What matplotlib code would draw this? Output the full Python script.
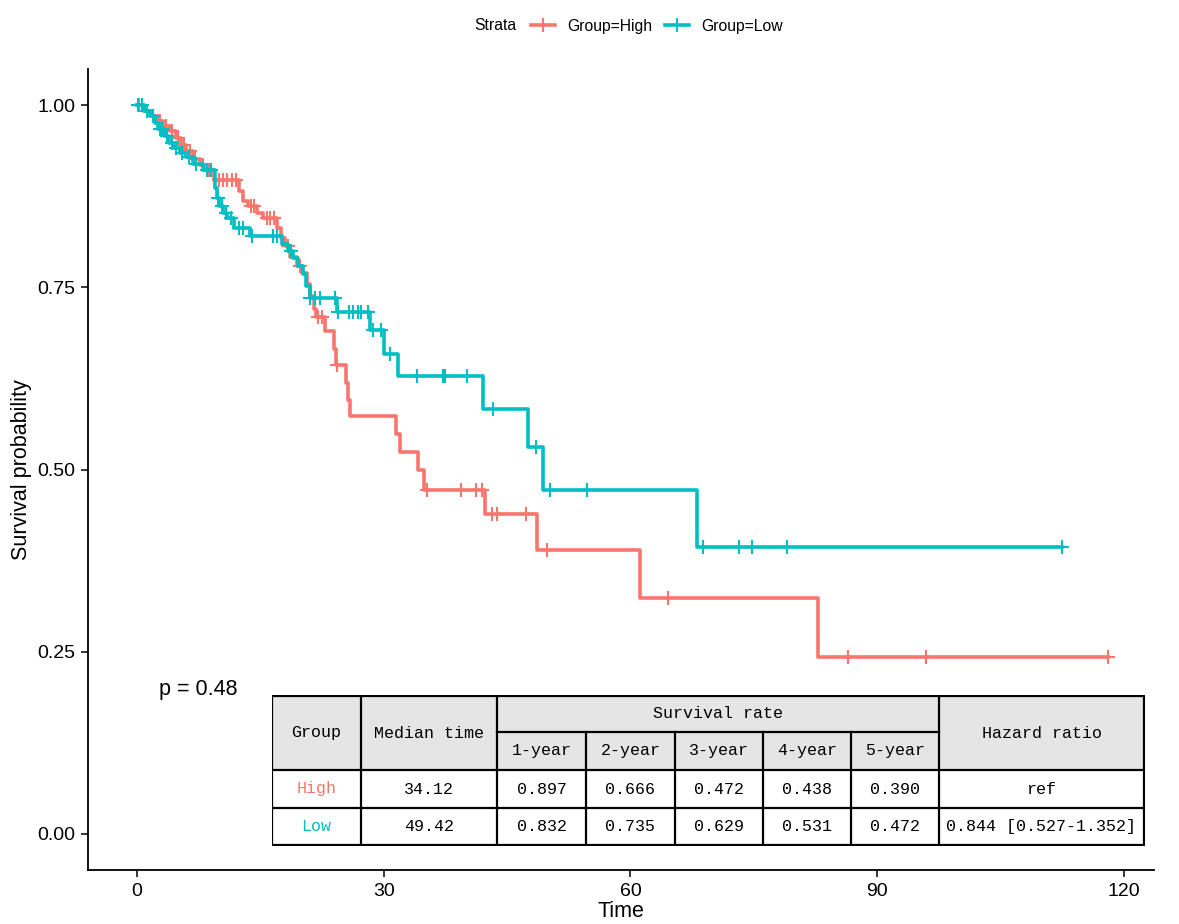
import numpy as np
import matplotlib.pyplot as plt
from matplotlib.patches import Rectangle
from matplotlib.lines import Line2D

# %% Data
# High group: event times and survival after each event
high_t = [0.9, 1.8, 2.5, 3.2, 4.0, 4.8, 5.4, 6.0, 6.8, 7.6, 8.3, 9.4,
          12.4, 12.9, 13.5, 14.6, 15.3, 17.0, 17.5, 18.0, 18.6, 19.4, 20.1,
          20.7, 21.0, 21.5, 21.8, 22.9, 23.9, 24.2, 25.4, 25.6, 25.9, 31.5,
          32.0, 34.12, 34.9, 42.3, 48.6, 61.2, 82.8]
high_s = [0.993, 0.986, 0.979, 0.972, 0.965, 0.955, 0.945, 0.937, 0.927, 0.918,
          0.911, 0.897, 0.883, 0.869, 0.862, 0.852, 0.845, 0.832, 0.818, 0.807,
          0.792, 0.780, 0.770, 0.755, 0.738, 0.720, 0.709, 0.690, 0.666, 0.643,
          0.619, 0.595, 0.573, 0.549, 0.524, 0.499, 0.472, 0.439, 0.390, 0.324,
          0.243]
high_cens = [0.3, 1.2, 2.0, 2.8, 3.5, 4.3, 5.0, 5.7, 6.4, 7.1, 8.0, 8.8, 10.0,
             10.5, 11.0, 11.5, 12.0, 13.8, 14.2, 15.8, 16.2, 16.6, 18.3, 19.8,
             22.0, 22.5, 24.3, 35.3, 39.4, 41.2, 42.0, 43.2, 43.8, 47.3, 49.9,
             64.6, 86.4, 95.9, 118.0]

# Low group
low_t = [0.9, 1.6, 2.2, 2.6, 3.3, 3.9, 4.5, 5.2, 6.0, 6.8, 8.0, 9.5, 9.7,
         10.0, 10.5, 11.0, 11.8, 13.7, 17.6, 18.3, 19.0, 19.6, 20.2, 20.5,
         21.0, 24.3, 28.3, 30.0, 31.7, 42.1, 47.5, 49.42, 68.1]
low_s = [0.993, 0.986, 0.976, 0.968, 0.958, 0.949, 0.942, 0.935, 0.929, 0.920,
         0.911, 0.887, 0.873, 0.862, 0.852, 0.845, 0.832, 0.821, 0.810, 0.800,
         0.790, 0.780, 0.768, 0.752, 0.735, 0.716, 0.692, 0.659, 0.629, 0.583,
         0.531, 0.472, 0.393]
low_cens = [0.1, 0.6, 1.2, 1.9, 2.8, 3.0, 3.6, 4.2, 4.8, 5.5, 6.3, 7.2, 8.5,
            9.0, 9.8, 10.3, 10.8, 11.4, 12.4, 12.9, 14.0, 16.5, 17.0, 18.7,
            21.0, 21.6, 22.2, 24.1, 24.4, 25.8, 26.2, 26.9, 27.2, 28.1, 28.7,
            29.7, 30.8, 34.0, 37.2, 37.4, 40.1, 43.3, 48.5, 50.2, 54.7, 68.8,
            73.2, 74.8, 79.0, 112.5]

p_text = 'p = 0.48'

# Table contents
tbl_groups = ['High', 'Low']
tbl_median = ['34.12', '49.42']
tbl_years = ['1-year', '2-year', '3-year', '4-year', '5-year']
tbl_rates = [['0.897', '0.666', '0.472', '0.438', '0.390'],
             ['0.832', '0.735', '0.629', '0.531', '0.472']]
tbl_hr = ['ref', '0.844 [0.527-1.352]']

RED = '#F8766D'
TEAL = '#00BFC4'
colors = [RED, TEAL]

# %% Figure
W, H = 1179, 924
plt.rcParams['font.family'] = ['Liberation Sans', 'DejaVu Sans']
fig = plt.figure(figsize=(W / 100, H / 100), dpi=100)
ax = fig.add_axes([88 / W, 1 - 870 / H, (1154 - 88) / W, (870 - 69) / H])


def step_curve(t, s, cens):
    tt = np.concatenate([[0], t])
    ss = np.concatenate([[1.0], s])
    end = max(cens[-1], t[-1])
    tt = np.append(tt, end)
    ss = np.append(ss, ss[-1])
    idx = np.searchsorted(tt[:-1], cens, side='right') - 1
    return tt, ss, np.asarray(cens), ss[idx]


for (t, s, c), col in zip([(high_t, high_s, high_cens), (low_t, low_s, low_cens)], colors):
    tt, ss, cx, cy = step_curve(t, s, c)
    ax.step(tt, ss, where='post', color=col, lw=2.6)
    ax.plot(cx, cy, ls='none', marker='+', ms=9.5, mew=1.5, color=col)

ax.set_xlim(-5.96, 123.65)
ax.set_ylim(-0.05, 1.05)
ax.set_xticks([0, 30, 60, 90, 120])
ax.set_yticks([0, 0.25, 0.5, 0.75, 1.0])
ax.set_yticklabels(['%.2f' % v for v in [0, 0.25, 0.5, 0.75, 1.0]])
ax.tick_params(labelsize=14, length=5, width=1.1, color='black', pad=4)
for side in ['top', 'right']:
    ax.spines[side].set_visible(False)
for side in ['left', 'bottom']:
    ax.spines[side].set_linewidth(1.3)
ax.set_xlabel('Time', fontsize=15.5, labelpad=1)
ax.set_ylabel('Survival probability', fontsize=15.5, labelpad=4)

fig.text(198 / W, 1 - 690 / H, p_text, fontsize=15.5, ha='center', va='center')

# legend
fig.text(474 / W, 1 - 26 / H, 'Strata', fontsize=11.3, ha='left', va='center')
handles = [Line2D([], [], color=c, lw=2.6, marker='+', ms=9.5, mew=1.5) for c in colors]
fig.legend(handles, ['Group=' + g for g in tbl_groups], loc='center',
           bbox_to_anchor=((522 + 792) / 2 / W, 1 - 26 / H), ncol=2, frameon=False,
           fontsize=11.3, handlelength=1.5, handletextpad=0.8, columnspacing=0.8,
           borderpad=0.2)

# %% Table
tx = fig.add_axes([272 / W, 1 - 846 / H, (1145 - 272) / W, (846 - 695) / H])
tx.set_xlim(272, 1145)
tx.set_ylim(846, 695)
tx.axis('off')
cols = [272, 361, 497, 586, 675, 763, 851, 939, 1144]
top, mid, hdr, r1, bot = 696, 732, 770, 808, 845
tx.add_patch(Rectangle((272, top), 1144 - 272, hdr - top, facecolor='#E5E5E5', edgecolor='none'))
tx.add_patch(Rectangle((272, hdr), 1144 - 272, bot - hdr, facecolor='white', edgecolor='none'))
lk = dict(color='black', lw=1.6, solid_capstyle='projecting')
for y in [top, hdr, r1, bot]:
    tx.plot([272, 1144], [y, y], **lk)
tx.plot([cols[2], cols[7]], [mid, mid], **lk)
for i, x in enumerate(cols):
    if 3 <= i <= 6:
        tx.plot([x, x], [mid, bot], **lk)
    else:
        tx.plot([x, x], [top, bot], **lk)

tf = dict(family=['Liberation Mono', 'DejaVu Sans Mono'], fontsize=12, ha='center', va='center')
cx = [(cols[i] + cols[i + 1]) / 2 for i in range(len(cols) - 1)]
tx.text(cx[0], (top + hdr) / 2, 'Group', **tf)
tx.text(cx[1], (top + hdr) / 2, 'Median time', **tf)
tx.text((cols[2] + cols[7]) / 2, (top + mid) / 2, 'Survival rate', **tf)
tx.text(cx[7], (top + hdr) / 2, 'Hazard ratio', **tf)
for j, yl in enumerate(tbl_years):
    tx.text(cx[2 + j], (mid + hdr) / 2, yl, **tf)
for r, (y0, y1) in enumerate([(hdr, r1), (r1, bot)]):
    yc = (y0 + y1) / 2
    tx.text(cx[0], yc, tbl_groups[r], color=colors[r], **tf)
    tx.text(cx[1], yc, tbl_median[r], **tf)
    for j, v in enumerate(tbl_rates[r]):
        tx.text(cx[2 + j], yc, v, **tf)
    tx.text(cx[7], yc, tbl_hr[r], **tf)

fig.savefig('out.png', dpi=100)
